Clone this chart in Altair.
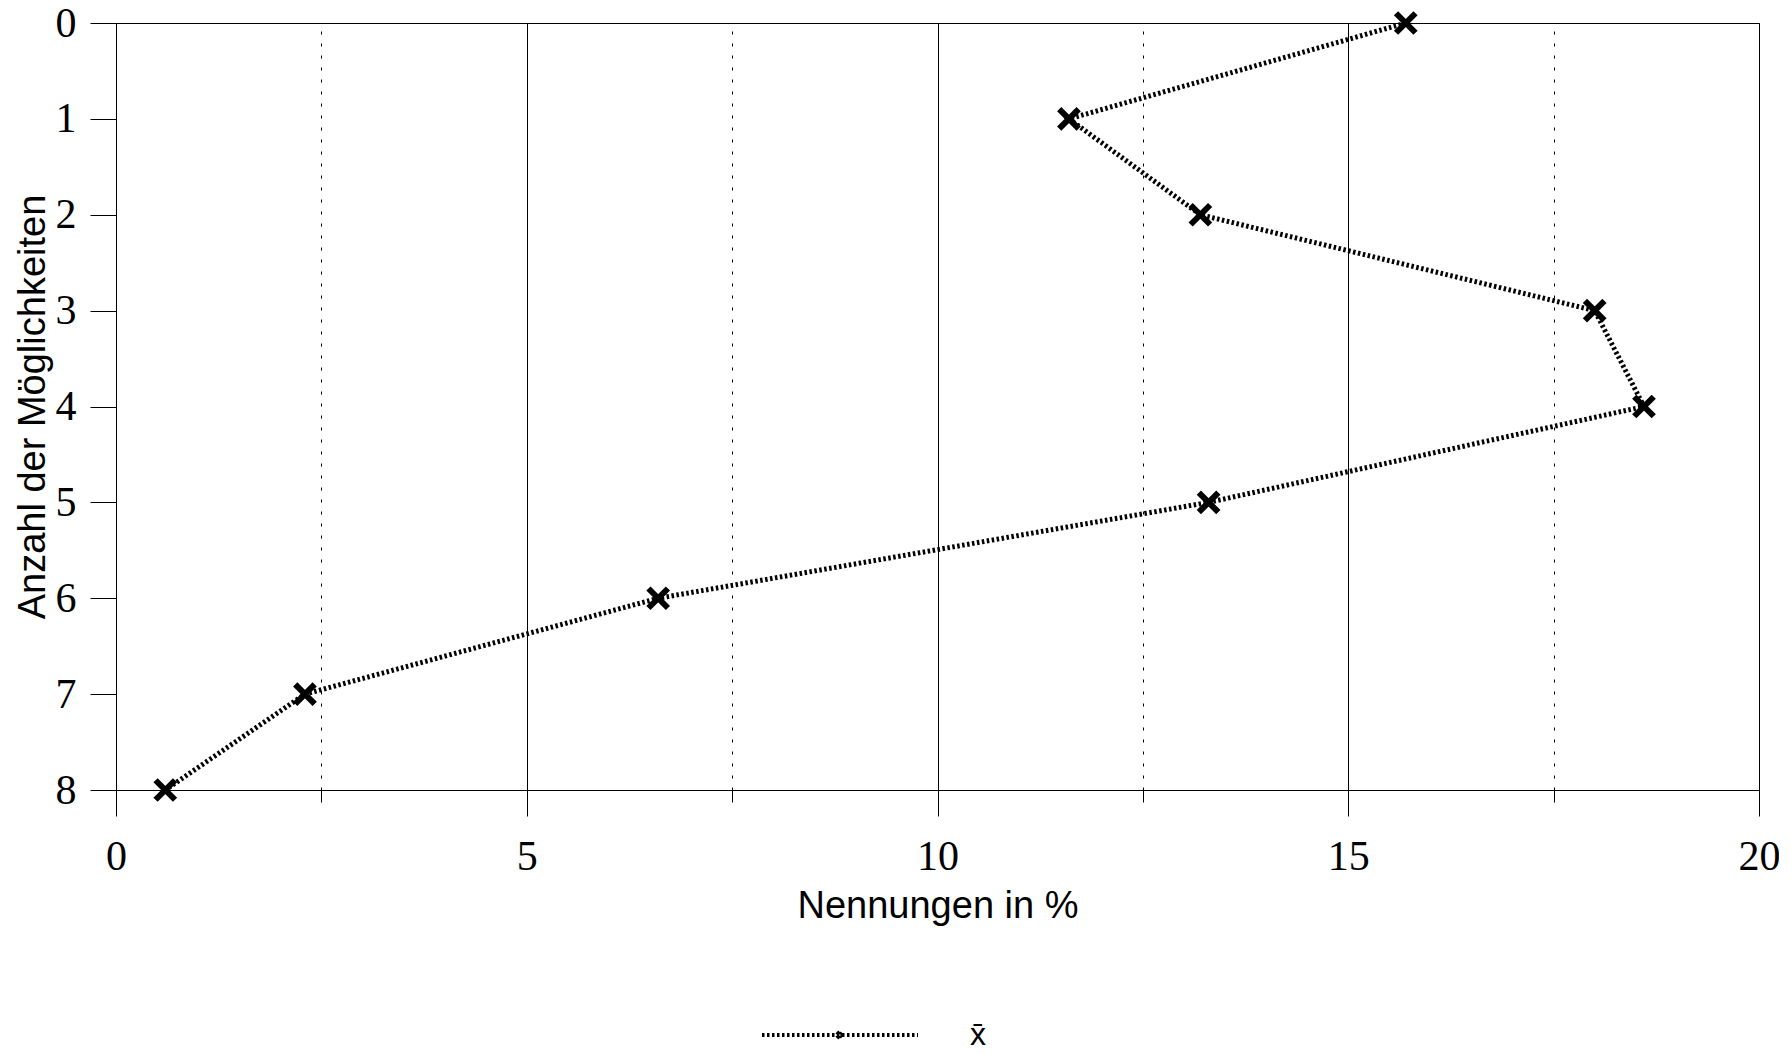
import altair as alt
import pandas as pd

moeglichkeiten = [0, 1, 2, 3, 4, 5, 6, 7, 8]
nennungen = [15.7, 11.6, 13.2, 18.0, 18.6, 13.3, 6.6, 2.3, 0.6]
series_label = ["x̄"] * len(moeglichkeiten)

x_ticks = [0, 2.5, 5, 7.5, 10, 12.5, 15, 17.5, 20]
y_ticks = [0, 1, 2, 3, 4, 5, 6, 7, 8]

df = pd.DataFrame({"anzahl": moeglichkeiten, "pct": nennungen, "serie": series_label})

SERIF = "Liberation Serif"
SANS = "Liberation Sans"

x_enc = alt.X(
    "pct:Q",
    scale=alt.Scale(domain=[0, 20], nice=False, zero=True),
    axis=alt.Axis(
        values=x_ticks,
        title="Nennungen in %",
        titleFont=SANS, titleFontSize=38, titleFontWeight="normal", titleColor="black",
        titlePadding=10,
        labelFont=SERIF, labelFontSize=42, labelColor="black", labelPadding=20,
        labelExpr="datum.value % 5 === 0 ? format(datum.value, 'd') : ''",
        tickSize={"condition": {"test": "datum.value % 5 === 0", "value": 26}, "value": 12},
        tickColor="black", tickWidth=1,
        domainColor="black", domainWidth=1,
        grid=True, gridColor="black", gridWidth=1,
        gridDash={"condition": {"test": "datum.value % 5 === 0", "value": []}, "value": [3, 9]},
        labelFlush=False,
    ),
)
y_enc = alt.Y(
    "anzahl:Q",
    scale=alt.Scale(domain=[0, 8], reverse=True, nice=False),
    axis=alt.Axis(
        values=y_ticks,
        format="d",
        title="Anzahl der Möglichkeiten",
        titleFont=SANS, titleFontSize=38, titleFontWeight="normal", titleColor="black",
        titlePadding=3,
        labelFont=SERIF, labelFontSize=42, labelColor="black", labelPadding=14,
        tickSize=26, tickColor="black", tickWidth=1,
        domainColor="black", domainWidth=1,
        grid=False, labelFlush=False,
    ),
)

color_enc = alt.Color(
    "serie:N",
    scale=alt.Scale(range=["black"]),
    legend=alt.Legend(
        title=None,
        orient="none",
        legendX=644,
        legendY=932,
        padding=0,
        symbolType="M-1,0L1,0M-0.04,-0.04L0.04,0.04M-0.04,0.04L0.04,-0.04",
        symbolSize=24336,
        symbolStrokeWidth=4,
        symbolDash=[2.5, 2.5],
        symbolStrokeColor="black",
        symbolFillColor="transparent",
        labelFont=SANS, labelFontSize=32, labelColor="black",
        labelOffset=50,
    ),
)

line = alt.Chart(df).mark_line(
    strokeWidth=5, strokeDash=[2.5, 2.5], color="black"
).encode(x=x_enc, y=y_enc, color=color_enc, order="anzahl:Q")

points = alt.Chart(df).mark_point(
    shape="M-1,-1L1,1M-1,1L1,-1", size=380, strokeWidth=6, filled=False, opacity=1
).encode(x="pct:Q", y="anzahl:Q", color=alt.value("black"))

chart = alt.layer(line, points).properties(
    width=1643, height=767,
    padding={"left": 108, "top": 15, "right": 20, "bottom": 262},
    autosize=alt.AutoSizeParams(type="none"),
    background="white",
).configure_view(stroke="black", strokeWidth=1)

chart.save("out.html", embed_options={"renderer": "svg", "actions": False})
